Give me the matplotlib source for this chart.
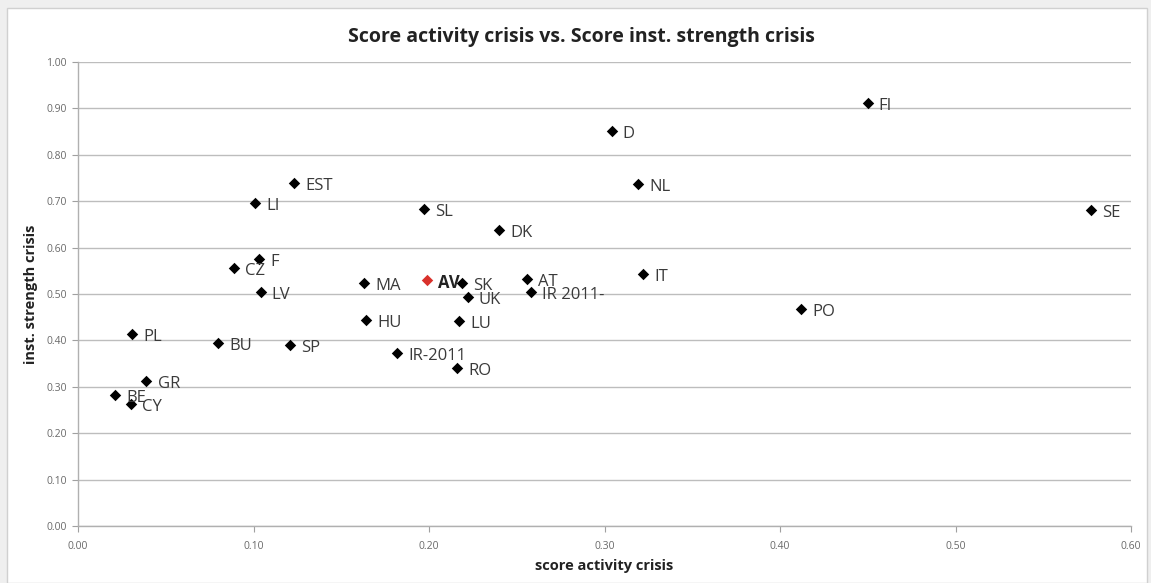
import matplotlib
matplotlib.use("Agg")
import matplotlib.pyplot as plt
from matplotlib.patches import Rectangle

plt.rcParams['font.family'] = ['Open Sans', 'DejaVu Sans']

countries = ["FI", "D", "NL", "SE", "EST", "LI", "SL", "DK", "F", "CZ", "IT",
             "MA", "SK", "AT", "IR 2011-", "UK", "LV", "PO", "HU", "LU", "PL",
             "BU", "SP", "IR-2011", "RO", "GR", "BE", "CY"]
activity = [0.450, 0.304, 0.319, 0.577, 0.123, 0.101, 0.197, 0.240, 0.103, 0.089, 0.322,
            0.163, 0.219, 0.256, 0.258, 0.222, 0.104, 0.412, 0.164, 0.217, 0.031,
            0.080, 0.121, 0.182, 0.216, 0.039, 0.021, 0.030]
strength = [0.912, 0.851, 0.737, 0.681, 0.739, 0.696, 0.683, 0.638, 0.575, 0.556, 0.543,
            0.524, 0.524, 0.532, 0.504, 0.494, 0.504, 0.468, 0.444, 0.442, 0.414,
            0.394, 0.390, 0.373, 0.341, 0.312, 0.282, 0.263]
avg_label = "AV"
avg_x = [0.199]
avg_y = [0.530]

W, H = 1151, 583
fig = plt.figure(figsize=(W / 100, H / 100), dpi=100, facecolor='#efefef')
bg = Rectangle((7 / W, 0), (1147 - 7) / W, (H - 8) / H,
               transform=fig.transFigure, facecolor='white',
               edgecolor='#d0d0d0', linewidth=1.0, zorder=-10)
fig.patches.append(bg)

ax = fig.add_axes([78 / W, 1 - 526 / H, (1131 - 78) / W, (526 - 62) / H])
ax.set_facecolor('none')
ax.set_xlim(0, 0.6)
ax.set_ylim(0, 1.0)
ax.set_xticks([i / 10 for i in range(7)])
ax.set_yticks([i / 10 for i in range(11)])
ax.set_xticklabels([f"{i / 10:.2f}" for i in range(7)])
ax.set_yticklabels([f"{i / 10:.2f}" for i in range(11)])
ax.tick_params(axis='both', labelsize=7.5, colors='#a0a0a0', labelcolor='#6a6a6a',
               length=4, width=0.8, direction='out')
ax.tick_params(axis='x', pad=7)
ax.tick_params(axis='y', pad=4)
ax.yaxis.grid(True, color='#bdbdbd', linewidth=1.0)
ax.set_axisbelow(True)
for s in ['top', 'right']:
    ax.spines[s].set_visible(False)
for s in ['left', 'bottom']:
    ax.spines[s].set_color('#b0b0b0')
    ax.spines[s].set_linewidth(1.0)

ax.scatter(activity, strength, marker='D', s=34, color='black', zorder=3, linewidths=0)
ax.scatter(avg_x, avg_y, marker='D', s=34, color='#d9312b', zorder=3, linewidths=0)

for c, x, y in zip(countries, activity, strength):
    ax.annotate(c, (x, y), xytext=(8, -2), textcoords='offset points',
                va='center', ha='left', fontsize=12, color='#3a3a3a', zorder=4)
ax.annotate(avg_label, (avg_x[0], avg_y[0]), xytext=(8, -2), textcoords='offset points',
            va='center', ha='left', fontsize=12, color='#222222', fontweight='bold', zorder=4)

fig.text(581 / W, 1 - 37 / H, "Score activity crisis vs. Score inst. strength crisis",
         ha='center', va='center', fontsize=14, fontweight='bold', color='#222222')
ax.set_xlabel("score activity crisis", fontsize=10.5, fontweight='bold', color='#222222', labelpad=5)
ax.set_ylabel("inst. strength crisis", fontsize=10.5, fontweight='bold', color='#222222', labelpad=6)

fig.savefig("out.png", dpi=100, facecolor=fig.get_facecolor())
